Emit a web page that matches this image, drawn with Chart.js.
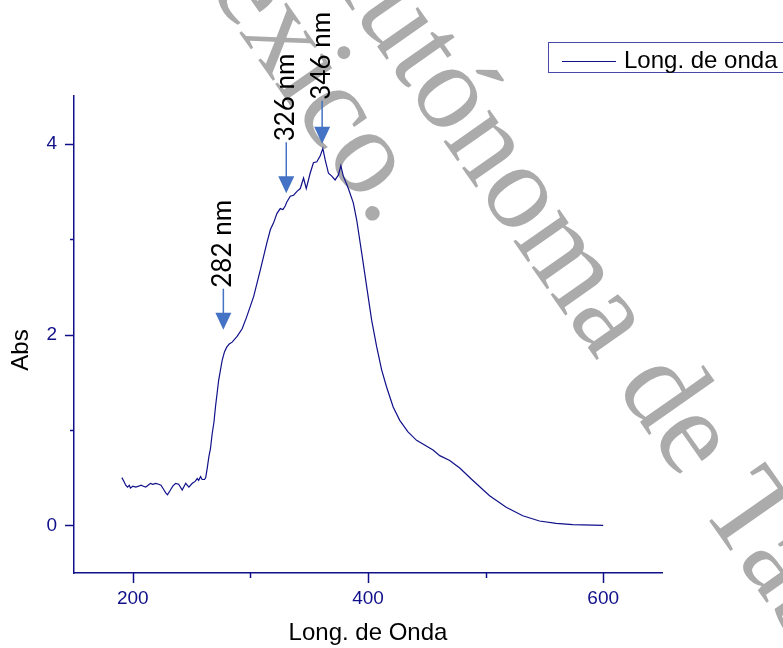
<!DOCTYPE html>
<html>
<head>
<meta charset="utf-8">
<script src="https://cdn.jsdelivr.net/npm/chart.js@4.4.1/dist/chart.umd.min.js"></script>
<style>
  body { margin: 0; background: #fff; }
  #wrap { width: 783px; height: 648px; position: relative; }
</style>
</head>
<body>
<div id="wrap"><canvas id="chart"></canvas></div>
<script>
// spectrum
const wavelength = [190.7, 192.5, 194, 195.5, 197, 198, 200, 202.5, 205, 207, 209, 211, 213, 215, 217, 219.5, 222, 224, 226.5, 228, 229.5, 232, 234, 236.4, 239, 242, 245, 247.7, 250.6, 253, 254.8, 256, 257.6, 259, 261, 262, 263.3, 264.7, 266, 267.5, 269, 270.3, 273, 276, 278, 280, 282, 284.5, 288.7, 293, 297, 302.8, 308.5, 314, 317, 319.7, 322.6, 325.4, 327.7, 329.7, 331, 333.9, 336.7, 339.6, 342.4, 345.2, 347.5, 350.8, 353.6, 356.5, 359.3, 361.6, 363.6, 366.4, 369.2, 372, 374.8, 376.9, 379, 383.3, 387.5, 390.4, 394.7, 398.9, 403.1, 407.4, 411.6, 415.8, 421.4, 427, 434, 441.3, 455.3, 461, 469.5, 473.7, 478, 489.2, 503.4, 517.5, 531.6, 545.8, 560, 574, 600];
const absorbance = [0.50, 0.46, 0.42, 0.40, 0.42, 0.39, 0.41, 0.40, 0.41, 0.42, 0.41, 0.40, 0.42, 0.44, 0.43, 0.44, 0.43, 0.42, 0.37, 0.34, 0.32, 0.37, 0.41, 0.44, 0.43, 0.37, 0.44, 0.40, 0.44, 0.46, 0.49, 0.47, 0.51, 0.48, 0.48, 0.50, 0.60, 0.72, 0.80, 0.96, 1.08, 1.24, 1.52, 1.73, 1.82, 1.87, 1.90, 1.92, 1.98, 2.06, 2.19, 2.40, 2.68, 2.96, 3.10, 3.17, 3.27, 3.32, 3.31, 3.35, 3.39, 3.45, 3.46, 3.50, 3.53, 3.64, 3.53, 3.69, 3.80, 3.81, 3.87, 3.95, 3.83, 3.69, 3.66, 3.62, 3.67, 3.77, 3.66, 3.53, 3.38, 3.20, 2.85, 2.50, 2.15, 1.87, 1.63, 1.45, 1.24, 1.10, 0.98, 0.89, 0.79, 0.73, 0.68, 0.64, 0.60, 0.47, 0.31, 0.19, 0.10, 0.045, 0.02, 0.007, 0.0];

// peak markers (arrow tip position in data units)
const peakLabels = ["282 nm", "326 nm", "346 nm"];
const peakX = [277, 330.5, 361];
const peakY = [2.05, 3.48, 4.0];
const peakArrowLen = [41, 51, 43];

const seriesName = "Long. de onda";
const yTitle = "Abs";
const navy = "#10108a";

// watermark text lines
const wmLine1 = "Universidad Juárez Autónoma de Tabasco.";
const wmLine2 = "México.";

document.addEventListener("DOMContentLoaded", function () {
    const ctx = document.getElementById("chart").getContext("2d");

    const points = wavelength.map((w, i) => ({ x: w, y: absorbance[i] }));

    // grey watermark behind the curve
    const watermark = {
        id: "watermark",
        beforeDatasetsDraw(chart) {
            const c = chart.ctx;
            const size = 122;
            const ang = 55 * Math.PI / 180;
            const dir = [Math.cos(ang), Math.sin(ang)];
            const up = [Math.sin(ang), -Math.cos(ang)];
            c.save();
            c.font = size + 'px "Liberation Serif"';
            c.fillStyle = "#ababab";
            c.textBaseline = "alphabetic";

            // put the centre of one glyph of the line at (cx, cy)
            function placeLine(text, prefix, glyph, cx, cy, upFrac) {
                const along = c.measureText(prefix).width + c.measureText(glyph).width / 2;
                const h = upFrac * size;
                const sx = cx - along * dir[0] - h * up[0];
                const sy = cy - along * dir[1] - h * up[1];
                c.save();
                c.translate(sx, sy);
                c.rotate(ang);
                c.fillText(text, 0, 0);
                c.restore();
            }
            placeLine(wmLine1, "Universidad Juárez Autónom", "a", 605, 323, 0.23);
            placeLine(wmLine2, "México", ".", 373, 213, 0.05);
            c.restore();
        }
    };

    // tick marks, arrows, y title and legend
    const extras = {
        id: "extras",
        afterDraw(chart) {
            const c = chart.ctx;
            const xs = chart.scales.x, ys = chart.scales.y;
            c.save();
            c.strokeStyle = navy;
            c.lineWidth = 1.5;
            xs.ticks.forEach(t => {
                if (t.value % 100 !== 0) return;
                const px = Math.round(xs.getPixelForValue(t.value)) + 0.5;
                const len = t.value % 200 === 0 ? 10 : 5;
                c.beginPath();
                c.moveTo(px, xs.top);
                c.lineTo(px, xs.top + len);
                c.stroke();
            });
            ys.ticks.forEach(t => {
                if (!Number.isInteger(t.value)) return;
                const py = Math.round(ys.getPixelForValue(t.value)) + 0.5;
                const len = t.value % 2 === 0 ? 9 : 4;
                c.beginPath();
                c.moveTo(ys.right, py);
                c.lineTo(ys.right - len, py);
                c.stroke();
            });

            // y axis title, sits a bit below the axis centre
            c.save();
            c.translate(21, 350);
            c.rotate(-Math.PI / 2);
            c.font = '24px "Liberation Sans"';
            c.fillStyle = "#000";
            c.textAlign = "center";
            c.textBaseline = "middle";
            c.fillText(yTitle, 0, 0);
            c.restore();

            // arrows
            peakLabels.forEach((label, i) => {
                const px = xs.getPixelForValue(peakX[i]);
                const tip = ys.getPixelForValue(peakY[i]);
                const top = tip - peakArrowLen[i];
                c.strokeStyle = "#4472C4";
                c.fillStyle = "#4472C4";
                c.lineWidth = 1.5;
                c.beginPath();
                c.moveTo(px, top);
                c.lineTo(px, tip - 16);
                c.stroke();
                c.beginPath();
                c.moveTo(px - 8, tip - 17);
                c.lineTo(px + 8, tip - 17);
                c.lineTo(px, tip);
                c.closePath();
                c.fill();
                c.save();
                c.translate(px - 1, top - 1);
                c.rotate(-Math.PI / 2);
                c.font = '26px Lato';
                c.fillStyle = "#000";
                c.textAlign = "left";
                c.textBaseline = "middle";
                c.fillText(label, 0, 0);
                c.restore();
            });

            // legend box
            const ds = chart.data.datasets[0];
            c.strokeStyle = "#4848a8";
            c.lineWidth = 1;
            c.strokeRect(548.5, 42.5, 260, 30);
            c.strokeStyle = ds.borderColor;
            c.lineWidth = 1.2;
            c.beginPath();
            c.moveTo(562, 61.5);
            c.lineTo(616, 61.5);
            c.stroke();
            c.fillStyle = "#000";
            c.font = '24px "Liberation Sans"';
            c.textBaseline = "middle";
            c.fillText(ds.label, 624, 61);
            c.restore();
        }
    };

    new Chart(ctx, {
        type: "line",
        data: {
            datasets: [{
                label: seriesName,
                data: points,
                borderColor: navy,
                borderWidth: 1.2,
                pointRadius: 0,
                tension: 0,
                fill: false
            }]
        },
        options: {
            responsive: true,
            maintainAspectRatio: false,
            animation: false,
            layout: { padding: { left: 0, top: 96, right: 121, bottom: 0 } },
            plugins: { legend: { display: false }, tooltip: { enabled: false } },
            scales: {
                x: {
                    type: "linear",
                    min: 150,
                    max: 650,
                    afterFit: s => { s.height = 75; },
                    grid: { drawOnChartArea: false, drawTicks: false },
                    border: { color: navy, width: 1.5 },
                    ticks: {
                        stepSize: 50,
                        autoSkip: false,
                        maxRotation: 0,
                        padding: 14,
                        color: navy,
                        font: { family: "Liberation Sans", size: 19 },
                        callback: v => (v % 200 === 0 ? v : "")
                    },
                    title: {
                        display: true,
                        text: "Long. de Onda",
                        color: "#000",
                        font: { family: "Liberation Sans", size: 24 },
                        padding: { top: 0, bottom: 0 }
                    }
                },
                y: {
                    min: -0.5,
                    max: 4.5,
                    afterFit: s => { s.width = 74; },
                    grid: { drawOnChartArea: false, drawTicks: false },
                    border: { color: navy, width: 1.5 },
                    ticks: {
                        stepSize: 0.5,
                        autoSkip: false,
                        padding: 17,
                        color: navy,
                        font: { family: "Liberation Sans", size: 19 },
                        callback: v => (v % 2 === 0 ? v : "")
                    }
                }
            }
        },
        plugins: [watermark, extras]
    });
});
</script>
</body>
</html>
